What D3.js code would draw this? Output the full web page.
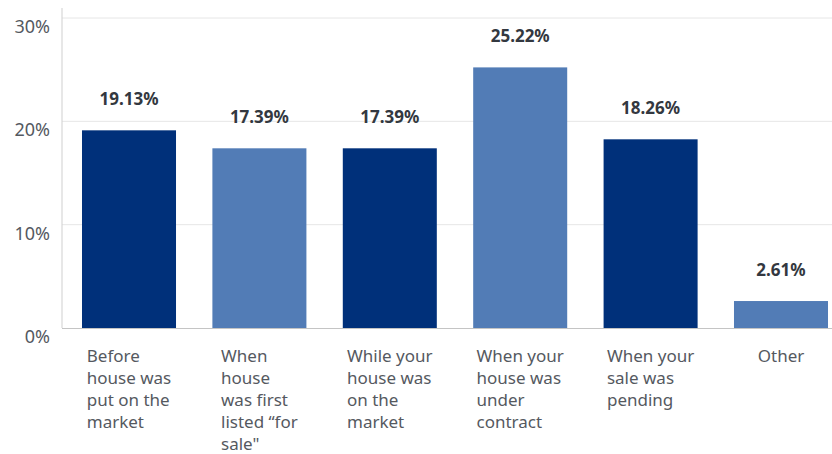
<!DOCTYPE html>
<html lang="en">
<head>
<meta charset="utf-8">
<title>When did you start looking</title>
<script src="https://d3js.org/d3.v7.min.js"></script>
<style>
  body { margin: 0; background: #fff; }
  text { font-family: "Noto Sans", "Open Sans", sans-serif; }
</style>
</head>
<body>
<div id="chart"></div>
<script>
var categories = [
  ["Before", "house was", "put on the", "market"],
  ["When", "house", "was first", "listed \u201cfor", "sale\""],
  ["While your", "house was", "on the", "market"],
  ["When your", "house was", "under", "contract"],
  ["When your", "sale was", "pending"],
  ["Other"]
];
var values = [19.13, 17.39, 17.39, 25.22, 18.26, 2.61];
var yTicks = [0, 10, 20, 30];

var width = 832, height = 454;
var svg = d3.select("#chart").append("svg")
  .attr("width", width)
  .attr("height", height);

var y = d3.scaleLinear().domain([0, 30]).range([328, 18]);
var x = d3.scaleBand()
  .domain(d3.range(values.length))
  .range([64, 846])
  .paddingInner(0.279)
  .paddingOuter(0.138);

// grid lines
svg.append("g").selectAll("line")
  .data(yTicks.slice(1))
  .enter().append("line")
  .attr("x1", 62).attr("x2", width)
  .attr("y1", function(d) { return y(d); })
  .attr("y2", function(d) { return y(d); })
  .attr("stroke", "#e6e6e6")
  .attr("stroke-width", 1);

// y tick labels
svg.append("g").selectAll("text")
  .data(yTicks)
  .enter().append("text")
  .attr("x", 50)
  .attr("y", function(d) { return y(d) + 15; })
  .attr("text-anchor", "end")
  .attr("font-size", 18)
  .attr("fill", "#55595f")
  .text(function(d) { return d + "%"; });

// bars
svg.append("g").selectAll("rect")
  .data(values)
  .enter().append("rect")
  .attr("x", function(d, i) { return x(i); })
  .attr("y", function(d) { return y(d); })
  .attr("width", x.bandwidth())
  .attr("height", function(d) { return y(0) - y(d); })
  .attr("fill", function(d, i) { return i % 2 ? "#527cb6" : "#00307a"; });

// axis lines
svg.append("line")
  .attr("x1", 62).attr("x2", 62).attr("y1", 8).attr("y2", 328)
  .attr("stroke", "#cfcfcf");
svg.append("line")
  .attr("x1", 62).attr("x2", width).attr("y1", 328.5).attr("y2", 328.5)
  .attr("stroke", "#c4c4c4");

// value labels
svg.append("g").selectAll("text")
  .data(values)
  .enter().append("text")
  .attr("x", function(d, i) { return x(i) + x.bandwidth() / 2; })
  .attr("y", function(d) { return y(d) - 25; })
  .attr("text-anchor", "middle")
  .attr("font-size", 17)
  .attr("font-weight", "bold")
  .attr("fill", "#333840")
  .text(function(d) { return d.toFixed(2) + "%"; });

// category labels: left-aligned blocks centred under each bar
var cat = svg.append("g").selectAll("text")
  .data(categories)
  .enter().append("text")
  .attr("y", 362)
  .attr("font-size", 17)
  .attr("fill", "#55595f");
cat.selectAll("tspan")
  .data(function(d) { return d; })
  .enter().append("tspan")
  .attr("dy", function(d, j) { return j ? 22 : 0; })
  .text(function(d) { return d; });
cat.each(function(d, i) {
  var w = d3.max(d3.select(this).selectAll("tspan").nodes(), function(n) { return n.getComputedTextLength(); });
  var left = x(i) + x.bandwidth() / 2 - w / 2;
  d3.select(this).selectAll("tspan").attr("x", left);
});
</script>
</body>
</html>
